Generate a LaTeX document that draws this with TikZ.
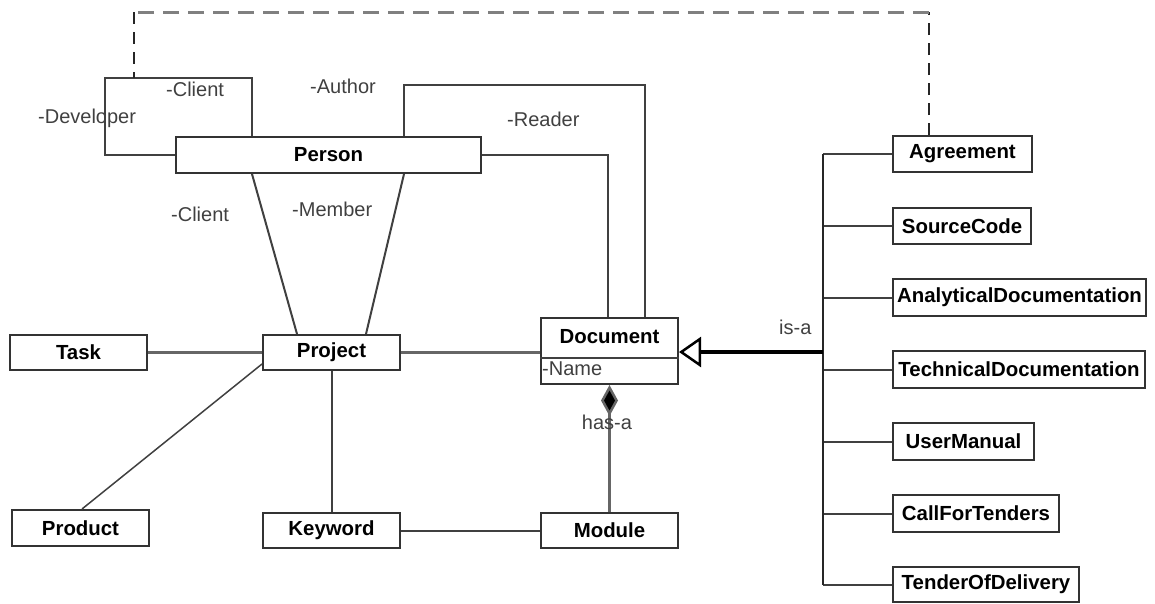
\documentclass[tikz,border=0pt]{standalone}
\usepackage{fontspec}
\setmainfont{Liberation Sans}
\usetikzlibrary{arrows.meta}
\begin{document}
\begin{tikzpicture}[x=1pt,y=-1pt,
  cls/.style={draw=black!80, line width=2pt, fill=white, inner sep=0pt, font=\fontsize{20.4}{23}\selectfont\bfseries},
  lbl/.style={font=\fontsize{20}{23}\selectfont, text=black!75, inner sep=0pt, anchor=west},
  conn/.style={draw=black!75, line width=2pt},
  lightconn/.style={draw=black!60, line width=2.5pt},
  dashv/.style={draw=black!85, line width=1.8pt, dash pattern=on 12pt off 8pt},
  dashh/.style={draw=black!50, line width=3pt, dash pattern=on 16pt off 9pt},
]
\useasboundingbox (0,0) rectangle (1155,603);

% classes
\node[cls, minimum width=305, minimum height=36] (person) at (328.5,155) {Person};
\node[cls, minimum width=137, minimum height=35] (task) at (78.5,352.5) {Task};
\node[cls, minimum width=137, minimum height=35] (project) at (331.5,352.5) {Project};
\node[cls, minimum width=137, minimum height=66] (doc) at (609.5,351) {};
\node[cls, draw=none, fill=none] (doctitle) at (609.5,337) {Document};
\node[lbl] (docattr) at (542,369) {-Name};
\draw[conn] (doc.west |- 0,358) -- (doc.east |- 0,358);
\node[cls, minimum width=137, minimum height=36] (product) at (80.5,528) {Product};
\node[cls, minimum width=137, minimum height=35] (keyword) at (331.5,530.5) {Keyword};
\node[cls, minimum width=137, minimum height=35] (module) at (609.5,530.5) {Module};

\node[cls, minimum width=139, minimum height=36] (agr) at (962.5,154) {Agreement};
\node[cls, minimum width=138, minimum height=36] (src) at (962,226) {SourceCode};
\node[cls, minimum width=253, minimum height=37] (ana) at (1019.5,297.5) {AnalyticalDocumentation};
\node[cls, minimum width=252, minimum height=37] (tech) at (1019,369.5) {TechnicalDocumentation};
\node[cls, minimum width=141, minimum height=37] (user) at (963.5,441.5) {UserManual};
\node[cls, minimum width=166, minimum height=37] (cft) at (976,513.5) {CallForTenders};
\node[cls, minimum width=186, minimum height=35] (tod) at (986,584.5) {TenderOfDelivery};

% coordinates
\coordinate (dL) at (134,12);
\coordinate (dR) at (929,12);
\coordinate (loopTop) at (134,78);
\coordinate (ttop) at (823,154);
\coordinate (tbot) at (823,585);
\coordinate (tmid) at (823,352);

% Person self-association (Developer / Client)
\draw[conn] (person.west) -- (105,155) |- (252,78) -- (person.north -| 252,0);
% dashed dependency
\draw[dashv] (agr.north -| dR) -- (dR);
\draw[dashh] (dR) -- (dL);
\draw[dashv] (dL) -- (loopTop);

% Author / Reader
\draw[conn] (person.north -| 404,0) |- (645,85) -- (doc.north -| 645,0);
\draw[conn] (person.east) -| (doc.north -| 608,0);

% Client / Member
\draw[conn] (person.south -| 252,0) -- (project.north -| 297,0);
\draw[conn] (person.south -| 404,0) -- (project.north -| 366,0);

% Project associations
\draw[lightconn] (task.east) -- (project.west);
\draw[lightconn] (project.east) -- (doc.west |- project.east);
\draw[conn, line width=1.5pt] (project.west |- 0,364) -- (product.north -| 82,0);
\draw[conn] (project.south) -- (keyword.north);
\draw[conn] (keyword.east) -- (module.west);

% composition
\draw[lightconn, -{Diamond[length=31pt, width=17pt, fill=black]}] (module.north) -- (doc.south);

% generalization
\foreach \n in {agr,src,ana,tech,user,cft,tod} {
  \draw[conn] (\n.west) -- (\n.west -| ttop);
}
\draw[draw=black!85, line width=2.8pt] (ttop) -- (tbot);
\draw[draw=black, line width=3.5pt, -{Triangle[open, length=22pt, width=30pt, line width=2.5pt]}] (tmid) -- (doc.east |- tmid);

% labels
\node[lbl] (lDev) at (38,118) {-Developer};
\node[lbl] (lCli1) at (166,89) {-Client};
\node[lbl] (lAuth) at (310,86) {-Author};
\node[lbl] (lRead) at (507,119) {-Reader};
\node[lbl] (lCli2) at (171,214) {-Client};
\node[lbl] (lMem) at (292,209) {-Member};
\node[lbl] (lisa) at (779,327) {is-a};
\node[lbl, anchor=center] (lhas) at (607,422) {has-a};
\end{tikzpicture}
\end{document}
